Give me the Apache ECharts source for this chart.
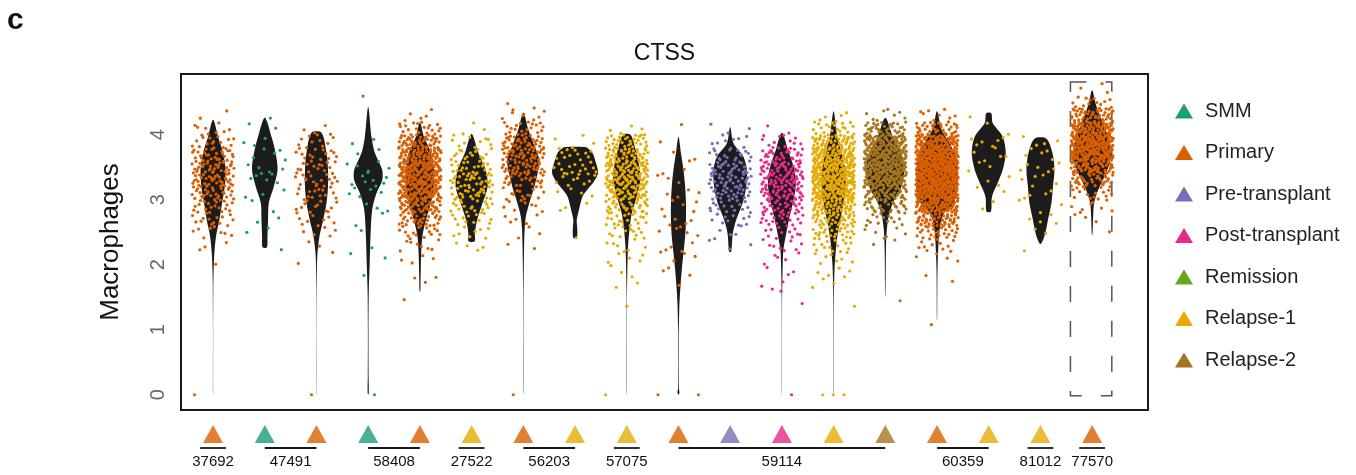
<!DOCTYPE html>
<html>
<head>
<meta charset="utf-8">
<script src="https://cdn.jsdelivr.net/npm/echarts@6/dist/echarts.min.js"></script>
<style>
  html, body { margin: 0; padding: 0; background: #fff; }
  #chart { width: 1356px; height: 475px; }
</style>
</head>
<body>
<div id="chart"></div>
<script>
// ---- data ----------------------------------------------------------------
// disease stage of each of the 18 samples, left to right
const sampleGroup = [
  'Primary', 'SMM', 'Primary', 'SMM', 'Primary', 'Relapse-1', 'Primary', 'Relapse-1', 'Relapse-1',
  'Primary', 'Pre-transplant', 'Post-transplant', 'Relapse-1', 'Relapse-2', 'Primary', 'Relapse-1',
  'Relapse-1', 'Primary'
];
const groupNames = ['SMM', 'Primary', 'Pre-transplant', 'Post-transplant', 'Remission', 'Relapse-1', 'Relapse-2'];
const groupColors = ['#1B9E77', '#D95F02', '#7570B3', '#E7298A', '#66A61E', '#E6AB02', '#A6761D'];

// patients and the sample range (1-based) each one covers
const patientIds   = ['37692', '47491', '58408', '27522', '56203', '57075', '59114', '60359', '81012', '77570'];
const patientFirst = [1, 2, 4, 6, 7, 9, 10, 15, 17, 18];
const patientLast  = [1, 3, 5, 6, 8, 9, 14, 16, 17, 18];

const yTicks = [0, 1, 2, 3, 4];
const highlightedSamples = [18];

// CTSS expression: number of macrophages per 0.2-wide expression bin (0-0.2, 0.2-0.4, ... 4.6-4.8)
const binWidth = 0.2;
const cellCounts = [
  [0,0,0,0,0,0,0,0,0,0,1,3,8,14,20,28,35,35,27,15,8,2,0,0],
  [0,0,0,0,0,0,0,0,0,0,0,1,2,2,2,3,5,5,5,3,2,1,0,0],
  [0,0,0,0,0,0,0,0,0,0,2,2,5,9,12,14,16,16,14,10,4,0,0,0],
  [0,0,0,0,0,0,0,0,0,1,2,1,1,2,3,5,7,6,2,2,0,0,1,0],
  [0,0,0,0,0,0,0,1,2,1,4,8,16,30,50,70,80,80,70,45,20,5,0,0],
  [0,0,0,0,0,0,0,0,0,0,0,4,8,12,18,25,28,22,15,10,3,0,0,0],
  [0,0,0,0,0,0,0,0,0,0,0,2,3,5,8,14,22,35,40,35,20,8,2,0],
  [0,0,0,0,0,0,0,0,0,0,0,0,1,0,3,4,10,14,12,4,0,0,0,0],
  [0,0,0,0,0,0,1,0,2,3,5,7,12,20,30,45,55,55,45,30,5,0,0,0],
  [0,0,0,0,0,0,0,0,1,3,4,4,5,5,5,4,3,3,2,1,1,0,0,0],
  [0,0,0,0,0,0,0,0,0,0,0,3,5,10,17,25,30,28,18,8,3,0,0,0],
  [0,0,0,0,0,0,0,2,3,3,5,8,12,20,30,40,45,38,28,12,2,0,0,0],
  [0,0,0,0,0,0,1,0,3,5,8,15,25,40,60,80,90,90,75,50,20,5,0,0],
  [0,0,0,0,0,0,0,1,0,0,0,2,6,15,30,50,75,90,90,70,35,8,0,0],
  [0,0,0,0,0,1,0,0,1,1,4,12,25,50,80,110,125,125,110,80,35,8,0,0],
  [0,0,0,0,0,0,0,0,0,0,0,0,0,0,2,2,3,3,5,6,2,1,0,0],
  [0,0,0,0,0,0,0,0,0,0,0,1,2,4,3,4,5,6,5,4,0,0,0,0],
  [0,0,0,0,0,0,0,0,0,0,0,0,1,3,8,15,35,60,90,100,80,45,15,3]
];
// cells with zero CTSS expression
const zeroCounts = [1,0,1,1,0,0,1,0,1,2,0,1,3,0,0,0,0,0];

// violin outlines: [expression, density] from the bottom of each violin to its top
const violinProfiles = [
  [[0,0],[0.05,0.12],[1.0,0.12],[1.7,0.3],[1.92,0.6],[2.18,1.3],[2.44,3],[2.69,6.3],[2.95,9],[3.2,11.7],[3.46,12.5],[3.72,10],[3.97,5],[4.23,0]],
  [[2.27,2.2],[2.44,2.7],[2.69,3.3],[2.95,4],[3.2,9],[3.46,12.8],[3.72,10.8],[3.97,6.7],[4.26,0]],
  [[0,0],[0.05,0.12],[1.41,0.15],[1.9,0.4],[2.18,1],[2.44,3],[2.69,6.7],[2.95,10],[3.2,11.5],[3.46,11.5],[3.72,10],[4.03,5]],
  [[0,0],[0.03,0.6],[0.3,0.4],[1.0,0.3],[1.6,0.6],[2.03,1.5],[2.44,2.3],[2.85,4],[3.1,8.3],[3.3,14],[3.46,14],[3.72,6.7],[3.97,3.3],[4.43,0]],
  [[1.59,0.4],[1.82,0.7],[2.18,1.3],[2.44,2.5],[2.69,6],[2.95,11],[3.2,13.7],[3.46,14],[3.72,11],[3.97,4],[4.19,0]],
  [[2.36,3],[2.49,3.3],[2.69,5.5],[2.95,11],[3.2,16],[3.46,14],[3.72,6.7],[4.01,0]],
  [[0,0],[0.05,0.15],[1.5,0.2],[2.23,0.7],[2.54,1.3],[2.74,2.5],[2.95,6],[3.2,11],[3.46,15],[3.62,16],[3.87,10],[4.08,5],[4.34,0]],
  [[2.41,1.6],[2.5,2.3],[2.59,2.1],[2.69,1.7],[2.85,4],[3.05,7.5],[3.15,12],[3.26,18],[3.41,23],[3.56,21],[3.72,17.5],[3.79,13],[3.81,10]],
  [[0,0],[0.05,0.15],[1.5,0.2],[1.92,0.6],[2.28,1.3],[2.54,2.7],[2.79,5],[3.05,10],[3.31,13.7],[3.56,12],[3.82,8],[4.0,3.7]],
  [[0,0],[0.03,1],[0.1,0.4],[0.9,0.3],[1.1,0.5],[1.41,1],[1.67,2],[1.92,3.3],[2.18,5],[2.44,6.7],[2.69,7.5],[2.95,7.5],[3.2,6.7],[3.46,5],[3.72,2.5],[3.97,0]],
  [[2.2,1],[2.49,2.7],[2.69,6],[2.95,12.5],[3.2,16],[3.46,16.7],[3.67,13],[3.87,3.3],[4.12,0]],
  [[0,0],[0.05,0.12],[1.4,0.2],[1.92,0.7],[2.23,1.5],[2.44,3.8],[2.69,7],[2.95,11],[3.2,13.8],[3.46,12.5],[3.77,6],[4.03,0]],
  [[0,0],[0.05,0.15],[1.5,0.3],[1.92,0.9],[2.18,2],[2.44,3.7],[2.69,6.7],[2.95,10],[3.2,12],[3.46,11.7],[3.72,8],[3.97,3.7],[4.36,0]],
  [[1.51,0.15],[2.28,0.7],[2.54,1.5],[2.74,3.3],[2.95,7.5],[3.2,16],[3.46,19],[3.72,16],[3.97,7.5],[4.26,0]],
  [[1.15,0.15],[1.92,0.5],[2.33,1.5],[2.59,3],[2.79,6.7],[2.95,16.7],[3.2,20.5],[3.46,20.5],[3.67,18.7],[3.87,12.5],[4.08,4.5],[4.36,0]],
  [[2.82,2.2],[3.05,3.3],[3.26,9],[3.46,14],[3.72,17],[3.97,14],[4.18,4],[4.33,2.5]],
  [[2.32,0],[2.44,4],[2.69,7.5],[2.95,11],[3.2,12.5],[3.46,14],[3.72,12],[3.94,6]],
  [[2.46,0.3],[2.74,1],[2.95,2],[3.15,6],[3.36,12.5],[3.56,17.5],[3.72,19],[3.97,16],[4.23,9],[4.49,3.3],[4.69,0]]
];

// ---- layout / style ------------------------------------------------------
const FONT = '"Liberation Sans", Arial, Helvetica, sans-serif';
const X_MIN = 0.38, X_MAX = 19.08;
const Y_MIN = -0.235, Y_MAX = 4.935;
const DENSITY_TO_X = 1 / 51.7;     // density units -> category widths
const JITTER = 0.41;               // half-width of the horizontal jitter
const VIOLIN_FILL = '#1c1c1c';

// radical inverse (Halton sequence) used to scatter cells evenly inside their bin
function radicalInverse(n, base) {
  let inv = 1 / base, f = inv, r = 0;
  while (n > 0) { r += (n % base) * f; n = Math.floor(n / base); f *= inv; }
  return r;
}

// jittered cells: each cell sits inside its expression bin, pushed sideways within the jitter band
const pointsByGroup = groupNames.map(() => []);
sampleGroup.forEach((g, s) => {
  const gi = groupNames.indexOf(g);
  const cx = s + 1;
  let k = 7 + s * 31;
  const place = (lo, span) => {
    k++;
    const u = radicalInverse(k, 2);
    const w = radicalInverse(k, 3);
    return [cx + (u - 0.5) * 2 * JITTER, lo + w * span];
  };
  for (let z = 0; z < zeroCounts[s]; z++) pointsByGroup[gi].push(place(0, 0));
  cellCounts[s].forEach((n, b) => {
    for (let j = 0; j < n; j++) pointsByGroup[gi].push(place(b * binWidth, binWidth));
  });
});

function renderViolin(params, api) {
  const s = params.dataIndex;
  const cx = s + 1;
  const prof = violinProfiles[s];
  const right = prof.map(([v, w]) => api.coord([cx + w * DENSITY_TO_X, v]));
  const left = [];
  for (let i = prof.length - 1; i >= 0; i--) {
    const [v, w] = prof[i];
    if (w === 0 && (i === 0 || i === prof.length - 1)) continue;
    left.push(api.coord([cx - w * DENSITY_TO_X, v]));
  }
  return {
    type: 'polygon',
    shape: { points: right.concat(left), smooth: 0.3 },
    style: { fill: VIOLIN_FILL, stroke: null }
  };
}

function renderHighlight(params, api) {
  const cx = api.value(0);
  const p0 = api.coord([cx - 0.42, 4.81]);
  const p1 = api.coord([cx + 0.38, -0.015]);
  return {
    type: 'rect',
    shape: { x: p0[0], y: p0[1], width: p1[0] - p0[0], height: p1[1] - p0[1] },
    style: { fill: null, stroke: '#555', lineWidth: 1.5, lineDash: [16, 19] }
  };
}

function renderPatient(params, api) {
  const i = params.dataIndex;
  const a = patientFirst[i], b = patientLast[i];
  const x0 = a === b ? a - 0.25 : a;
  const x1 = a === b ? b + 0.25 : b;
  const p0 = api.coord([x0, 28]);
  const p1 = api.coord([x1, 28]);
  const pm = api.coord([(x0 + x1) / 2, 42]);
  return {
    type: 'group',
    children: [
      { type: 'line', shape: { x1: p0[0], y1: p0[1], x2: p1[0], y2: p1[1] },
        style: { stroke: '#1a1a1a', lineWidth: 1.8 } },
      { type: 'text', x: pm[0], y: pm[1],
        style: { text: patientIds[i], fill: '#111', font: '15px ' + FONT, align: 'center', verticalAlign: 'middle' } }
    ]
  };
}

const chart = echarts.init(document.getElementById('chart'), null, { renderer: 'canvas' });

const groupSeries = groupNames.map((name, gi) => ({
  name,
  type: 'scatter',
  xAxisIndex: 0, yAxisIndex: 0,
  data: pointsByGroup[gi],
  symbol: 'circle',
  symbolSize: 3.2,
  itemStyle: { color: groupColors[gi], opacity: 1 },
  silent: true,
  z: 3,
  emphasis: { disabled: true }
}));

const option = {
  animation: false,
  backgroundColor: '#ffffff',
  textStyle: { fontFamily: FONT },
  grid: [
    { left: 181, top: 74, width: 967, height: 336, show: true, borderColor: '#1a1a1a', borderWidth: 2, backgroundColor: 'transparent' },
    { left: 181, top: 420, width: 967, height: 50 }
  ],
  xAxis: [
    { gridIndex: 0, type: 'value', min: X_MIN, max: X_MAX, show: false },
    { gridIndex: 1, type: 'value', min: X_MIN, max: X_MAX, show: false }
  ],
  yAxis: [
    {
      gridIndex: 0, type: 'value', min: Y_MIN, max: Y_MAX,
      name: 'Macrophages', nameLocation: 'middle', nameGap: 57, nameRotate: 90,
      nameTextStyle: { fontSize: 26, color: '#111', fontFamily: FONT },
      axisLine: { show: false }, axisTick: { show: false }, splitLine: { show: false },
      axisLabel: { customValues: yTicks, rotate: 90, fontSize: 20, color: '#666', margin: 13, fontFamily: FONT }
    },
    { gridIndex: 1, type: 'value', min: 0, max: 50, inverse: true, show: false }
  ],
  legend: {
    orient: 'vertical',
    left: 1175, top: 101,
    padding: 0,
    data: groupNames,
    icon: 'triangle',
    itemWidth: 18, itemHeight: 15,
    itemGap: 21.5,
    selectedMode: false,
    textStyle: { fontSize: 20, color: '#222', lineHeight: 20, fontFamily: FONT, padding: [0, 0, 0, 7] }
  },
  graphic: [
    { type: 'text', x: 7, y: 21, style: { text: 'c', font: 'bold 30px ' + FONT, fill: '#111', verticalAlign: 'middle' } },
    { type: 'text', x: 664.5, y: 54, style: { text: 'CTSS', font: '23px ' + FONT, fill: '#111', align: 'center', verticalAlign: 'middle' } }
  ],
  series: [
    {
      type: 'custom', name: 'highlight',
      xAxisIndex: 0, yAxisIndex: 0,
      data: highlightedSamples.map(s => [s, 0]),
      renderItem: renderHighlight,
      silent: true, z: 1
    },
    {
      type: 'custom', name: 'violin',
      xAxisIndex: 0, yAxisIndex: 0,
      data: sampleGroup.map((g, i) => [i + 1, 0]),
      renderItem: renderViolin,
      silent: true, z: 2
    },
    ...groupSeries,
    {
      type: 'scatter', name: 'stage',
      xAxisIndex: 1, yAxisIndex: 1,
      data: sampleGroup.map((g, i) => ({ value: [i + 1, 14], itemStyle: { color: groupColors[groupNames.indexOf(g)] } })),
      symbol: 'triangle', symbolSize: [20, 18],
      silent: true
    },
    {
      type: 'custom', name: 'patient',
      xAxisIndex: 1, yAxisIndex: 1,
      data: patientIds.map((p, i) => [patientFirst[i], 28]),
      renderItem: renderPatient,
      silent: true
    }
  ]
};

chart.setOption(option);
</script>
</body>
</html>
